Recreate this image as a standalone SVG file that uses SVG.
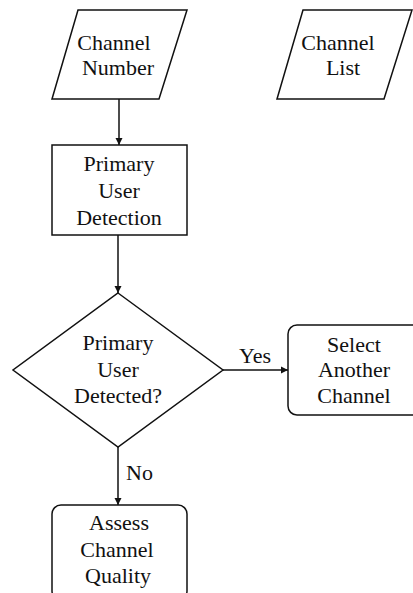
<svg xmlns="http://www.w3.org/2000/svg" width="413" height="593" viewBox="0 0 413 593">
<defs>
<style>
.s{fill:#fff;stroke:#111;stroke-width:1.5}
.e{fill:none;stroke:#111;stroke-width:1.5}
text{font-size:22px;fill:#111;text-anchor:middle}
</style>
<marker id="ah" markerWidth="8" markerHeight="8" refX="7" refY="4" orient="auto" markerUnits="userSpaceOnUse">
<path d="M0,0.5 L7,4 L0,7.5 Z" fill="#111"/>
</marker>
</defs>
<rect width="413" height="593" fill="#fff"/>
<g font-family="'Liberation Serif', 'DejaVu Serif', 'Times New Roman', serif">
<g id="connectors">
<line class="e" x1="119" y1="99" x2="119" y2="145" marker-end="url(#ah)"/>
<line class="e" x1="118" y1="235" x2="118" y2="293" marker-end="url(#ah)"/>
<line class="e" x1="223" y1="370" x2="288" y2="370" marker-end="url(#ah)"/>
<line class="e" x1="118" y1="447" x2="118" y2="505" marker-end="url(#ah)"/>
<text x="255" y="363">Yes</text>
<text x="126" y="480" style="text-anchor:start">No</text>
</g>
<g id="channel-number">
<polygon class="s" points="78,10 187,10 159,99 52,99"/>
<text x="114" y="50">Channel</text>
<text x="118" y="75">Number</text>
</g>
<g id="channel-list">
<polygon class="s" points="303,10 412,10 384,99 277,99"/>
<text x="338" y="50">Channel</text>
<text x="343" y="75">List</text>
</g>
<g id="primary-user-detection">
<rect class="s" x="52" y="145" width="135" height="90"/>
<text x="119" y="171">Primary</text>
<text x="119" y="198">User</text>
<text x="119" y="225">Detection</text>
</g>
<g id="primary-user-detected">
<polygon class="s" points="118,293 223,370 118,447 13,370"/>
<text x="118" y="350">Primary</text>
<text x="118" y="377">User</text>
<text x="118" y="403">Detected?</text>
</g>
<g id="select-another-channel">
<rect class="s" x="288" y="325" width="135" height="90" rx="9" ry="9"/>
<text x="354" y="352">Select</text>
<text x="354" y="377">Another</text>
<text x="354" y="403">Channel</text>
</g>
<g id="assess-channel-quality">
<rect class="s" x="52" y="505" width="135" height="95" rx="9" ry="9"/>
<text x="119" y="530">Assess</text>
<text x="117" y="557">Channel</text>
<text x="118" y="583">Quality</text>
</g>
</g>
</svg>
